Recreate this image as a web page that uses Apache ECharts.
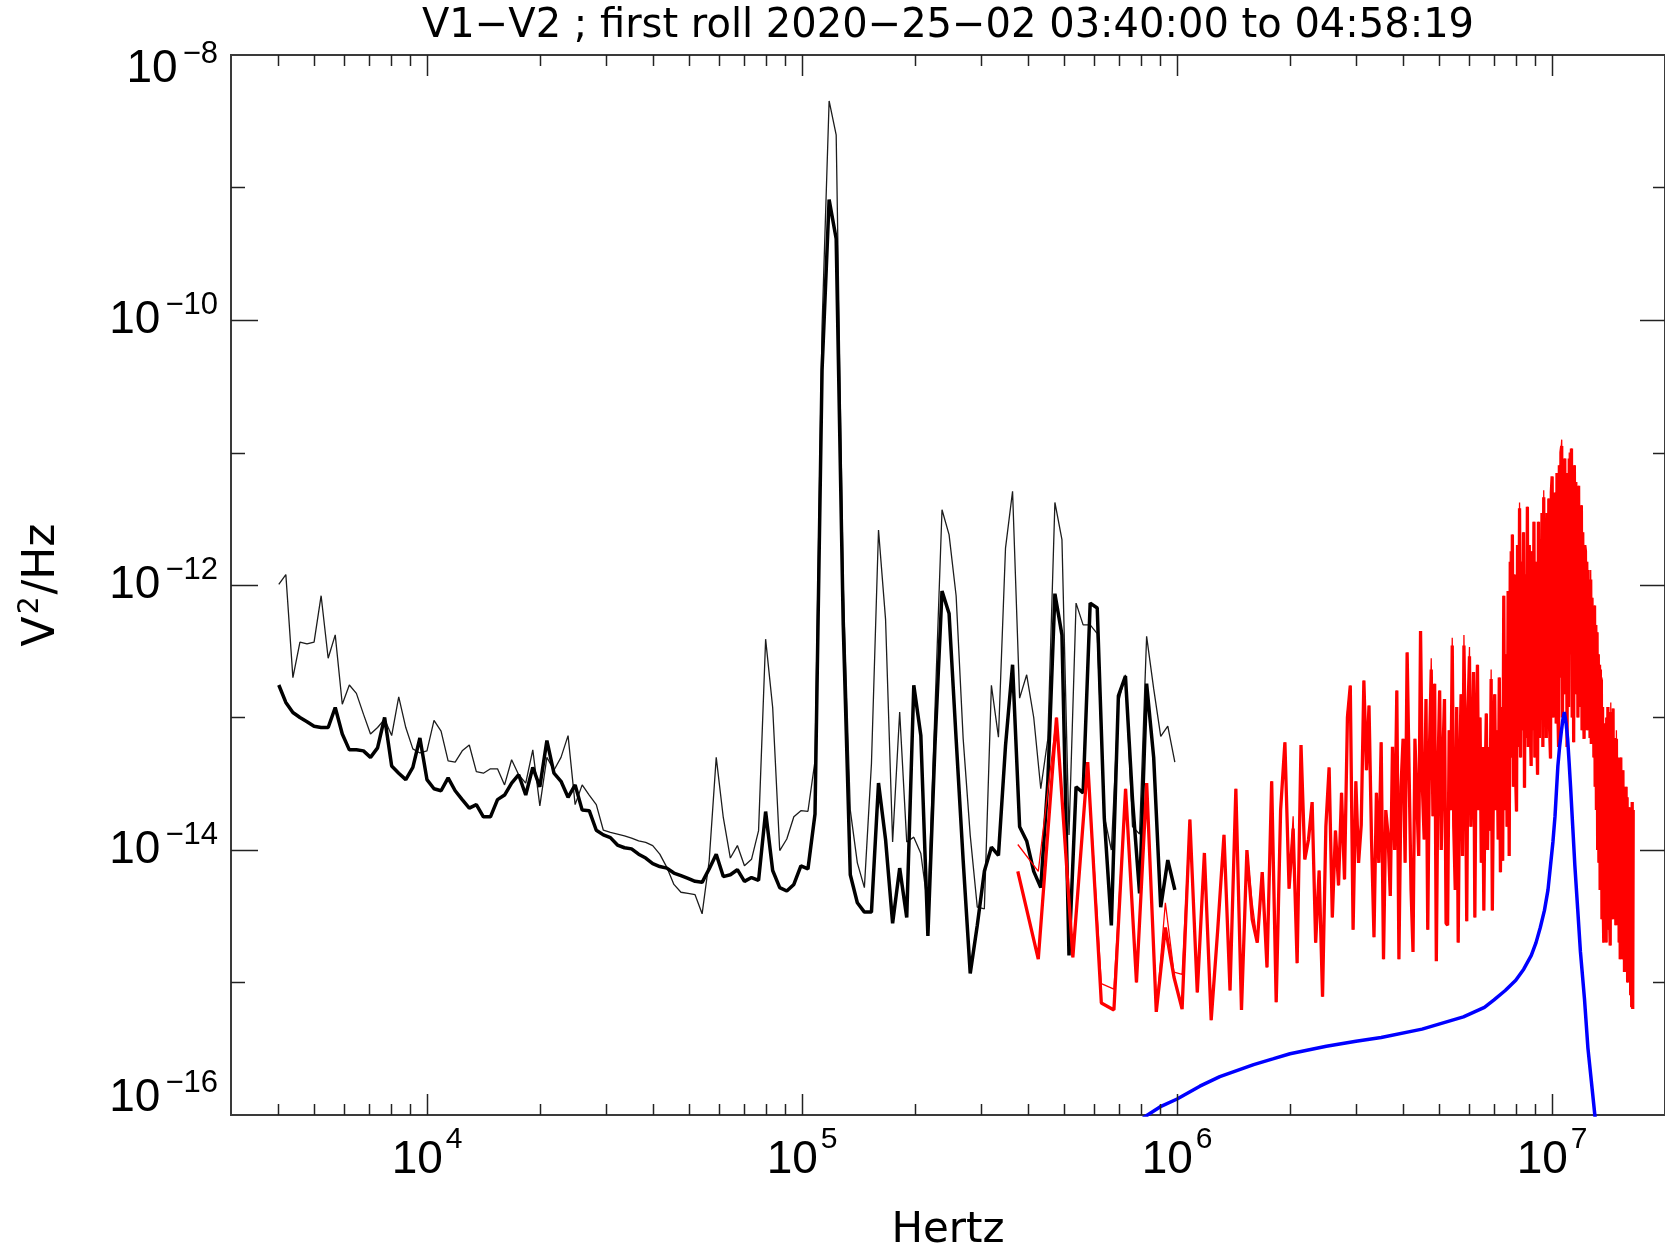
<!DOCTYPE html>
<html>
<head>
<meta charset="utf-8">
<script src="https://cdn.jsdelivr.net/npm/echarts@6/dist/echarts.min.js"></script>
<style>
html, body { margin: 0; padding: 0; background: #fff; }
#chart { width: 1665px; height: 1248px; }
</style>
</head>
<body>
<div id="chart"></div>
<script>
// frequency bins: low band is log spaced (16 bins per octave), high band is linear
var blackStart = 4023
var binsPerOctave = 16
var redStart = 376000
var redStep = 50400

// V^2/Hz, one value per bin
var blackThin = [
  1.01e-12, 1.2e-12, 2.0e-13, 3.7e-13, 3.6e-13, 3.7e-13, 8.3e-13, 2.8e-13, 4.2e-13, 1.26e-13,
  1.76e-13, 1.52e-13, 1.06e-13, 7.5e-14, 8.4e-14, 9.7e-14, 7.3e-14, 1.43e-13, 8.4e-14, 5.8e-14,
  5.4e-14, 5.6e-14, 9.5e-14, 7.9e-14, 4.7e-14, 4.6e-14, 5.6e-14, 6.2e-14, 3.9e-14, 3.8e-14,
  4.1e-14, 4.1e-14, 3.1e-14, 4.8e-14, 3.7e-14, 3.2e-14, 5.7e-14, 2.15e-14, 5.0e-14, 4.0e-14,
  5.0e-14, 7.3e-14, 2.2e-14, 3.1e-14, 2.6e-14, 2.2e-14, 1.41e-14, 1.36e-14, 1.32e-14, 1.28e-14,
  1.23e-14, 1.17e-14, 1.14e-14, 1.08e-14, 9.3e-15, 7.4e-15, 5.5e-15, 4.8e-15, 4.7e-15, 4.6e-15,
  3.3e-15, 8.3e-15, 5.0e-14, 1.76e-14, 8.7e-15, 1.08e-14, 7.6e-15, 8.5e-15, 1.40e-14, 3.9e-13,
  1.19e-13, 9.9e-15, 1.21e-14, 1.78e-14, 1.98e-14, 1.96e-14, 4.7e-14, 9.0e-11, 4.5e-9, 2.5e-9,
  1.0e-12, 2.0e-14, 8.0e-15, 5.2e-15, 4.5e-14, 2.6e-12, 5.5e-13, 1.15e-14, 1.1e-13, 1.15e-14,
  1.25e-14, 9.4e-15, 3.7e-15, 1.14e-13, 3.7e-12, 2.4e-12, 8.3e-13, 6.9e-14, 1.29e-14, 3.7e-15,
  3.6e-15, 1.75e-13, 7.1e-14, 1.9e-12, 5.1e-12, 1.4e-13, 2.1e-13, 1.0e-13, 2.9e-14, 6.9e-14,
  4.2e-12, 2.2e-12, 1.3e-14, 7.3e-13, 5.0e-13, 5.0e-13, 4.3e-13, 1.8e-14, 1.0e-14, 1.3e-13,
  2.1e-13, 1.5e-14, 1.32e-14, 4.1e-13, 1.65e-13, 7.2e-14, 8.6e-14, 4.6e-14
]
var blackThick = [
  1.76e-13, 1.30e-13, 1.09e-13, 1.00e-13, 9.3e-14, 8.6e-14, 8.4e-14, 8.4e-14, 1.19e-13, 7.5e-14,
  5.7e-14, 5.7e-14, 5.6e-14, 5.0e-14, 5.9e-14, 1.00e-13, 4.3e-14, 3.8e-14, 3.4e-14, 4.2e-14,
  7.0e-14, 3.4e-14, 2.9e-14, 2.8e-14, 3.5e-14, 2.8e-14, 2.4e-14, 2.07e-14, 2.2e-14, 1.78e-14,
  1.78e-14, 2.4e-14, 2.6e-14, 3.2e-14, 3.7e-14, 2.6e-14, 4.2e-14, 3.0e-14, 6.7e-14, 3.8e-14,
  3.3e-14, 2.5e-14, 3.1e-14, 2.0e-14, 1.98e-14, 1.41e-14, 1.30e-14, 1.24e-14, 1.09e-14, 1.04e-14,
  1.02e-14, 9.3e-15, 8.7e-15, 7.9e-15, 7.5e-15, 7.3e-15, 6.7e-15, 6.4e-15, 6.1e-15, 5.8e-15,
  5.7e-15, 7.2e-15, 9.3e-15, 6.3e-15, 6.5e-15, 7.1e-15, 5.8e-15, 6.2e-15, 5.9e-15, 1.95e-14,
  7.0e-15, 5.2e-15, 4.9e-15, 5.5e-15, 7.6e-15, 7.2e-15, 1.87e-14, 4.2e-11, 8.1e-10, 4.1e-10,
  5.0e-13, 6.5e-15, 4.0e-15, 3.4e-15, 3.4e-15, 3.2e-14, 1.2e-14, 2.8e-15, 7.3e-15, 3.1e-15,
  1.75e-13, 7.3e-14, 2.25e-15, 6.1e-14, 9.0e-13, 6.1e-13, 6.9e-14, 8.3e-15, 1.17e-15, 2.7e-15,
  6.9e-15, 1.05e-14, 9.1e-15, 6.1e-14, 2.5e-13, 1.5e-14, 1.17e-14, 6.9e-15, 5.2e-15, 3.3e-14,
  8.6e-13, 4.2e-13, 1.6e-15, 3.0e-14, 2.7e-14, 7.3e-13, 6.7e-13, 1.75e-14, 2.7e-15, 1.46e-13,
  2.05e-13, 2.4e-14, 4.7e-15, 1.8e-13, 5.0e-14, 3.7e-15, 8.4e-15, 5.0e-15
]
var redThin = [
  1.1e-14, 6.9e-15, 1.0e-13, 1.55e-15, 4.6e-14, 9.8e-16, 8.9e-16, 2.9e-14, 1.0e-15, 3.2e-14,
  6.0e-16, 4.0e-15, 1.2e-15, 1.15e-15, 1.7e-14, 8.4e-16, 9.5e-15, 5.2e-16, 2.5e-15, 1.3e-14,
  8.7e-16, 2.9e-14, 6.2e-16, 1.0e-14, 4.0e-15, 2.0e-15, 6.8e-15, 1.3e-15, 3.3e-14, 7.1e-16,
  2.0e-14, 6.5e-14, 5.1e-15, 1.8e-14, 1.4e-15, 6.2e-14, 8.5e-15, 1.2e-14, 2.3e-14, 2.0e-15,
  7.0e-15, 7.8e-16, 1.5e-14, 4.2e-14, 3.1e-15, 1.4e-14, 5.4e-15, 2.7e-14, 6.0e-15, 1.1e-13,
  1.74e-13, 2.5e-15, 3.3e-14, 8.0e-15, 1.55e-14, 1.9e-13, 4.0e-14, 1.23e-13, 1.2e-14, 2.2e-15,
  2.7e-14, 8.0e-15, 6.5e-14, 1.5e-15, 2.0e-14, 1.3e-14, 4.5e-15, 6.0e-14, 1.0e-14, 1.6e-13,
  1.5e-15, 3.0e-14, 6.9e-14, 8.0e-15, 3.1e-13, 3.2e-13, 5.0e-15, 1.7e-15, 6.9e-14, 2.5e-14,
  9.0e-15, 4.5e-13, 3.0e-14, 1.2e-14, 1.38e-13, 2.5e-15, 6.0e-14, 2.8e-13, 1.8e-14, 1.8e-13,
  1.45e-15, 5.0e-14, 1.6e-13, 1.0e-14, 5.0e-14, 1.38e-13, 2.8e-15, 2.7e-15, 8.0e-14, 2.0e-14,
  4.0e-13, 1.5e-14, 5.0e-15, 1.2e-13, 2.0e-15, 4.0e-14, 1.5e-13, 9.0e-15, 4.2e-13, 6.0e-14,
  2.9e-15, 1.2e-13, 3.4e-13, 1.5e-14, 5.0e-14, 2.2e-13, 3.1e-15, 7.0e-14, 2.5e-13, 2.0e-14,
  1.0e-13, 8.0e-15, 6.0e-14, 3.5e-15, 3.0e-14, 1.07e-13, 1.0e-14, 6.0e-14, 1.4e-14, 2.3e-13,
  3.5e-15, 4.0e-14, 1.5e-13, 2.0e-14, 8.0e-14, 1.2e-14, 2.0e-13, 6.8e-15, 1.2e-13, 8.3e-15,
  8.3e-13, 2.0e-14, 3.0e-13, 1.5e-14, 9.0e-13, 9.0e-15, 1.8e-12, 5.0e-14, 2.4e-12, 3.0e-14,
  1.2e-12, 4.0e-14, 1.95e-14, 2.0e-12, 6.0e-14, 4.2e-12, 5.0e-14, 1.5e-12, 8.0e-14, 2.5e-12,
  2.95e-14, 1.2e-12, 7.0e-14, 3.9e-12, 6.0e-14, 2.0e-12, 1.0e-13, 4.3e-14, 1.8e-12, 8.0e-14,
  3.0e-12, 5.0e-14, 1.5e-12, 9.0e-14, 3.7e-14, 3.0e-12, 7.0e-14, 2.2e-12, 1.2e-13, 3.5e-12,
  6.0e-14, 5.2e-12, 1.0e-13, 2.5e-12, 7.0e-14, 3.5e-12, 1.5e-13, 4.5e-12, 8.0e-14, 4.9e-14,
  5.0e-12, 6.6e-12, 1.0e-13, 3.5e-12, 1.5e-13, 5.0e-12, 9.0e-14, 7.0e-12, 1.2e-13, 6.0e-14,
  8.0e-12, 2.0e-13, 1.0e-11, 1.25e-11, 1.0e-13, 6.0e-12, 1.5e-13, 9.0e-12, 2.5e-13, 7.0e-12,
  6.0e-14, 5.0e-12, 1.2e-13, 1.0e-11, 3.0e-13, 6.0e-12, 1.07e-11, 1.0e-13, 5.0e-12, 6.5e-14,
  8.0e-12, 2.0e-13, 6.0e-12, 1.5e-13, 4.0e-12, 1.0e-13, 5.6e-12, 2.0e-13, 3.0e-12, 1.2e-13,
  4.0e-12, 8.0e-14, 2.5e-12, 1.5e-13, 6.9e-14, 2.0e-12, 1.8e-12, 1.0e-13, 1.5e-12, 8.0e-14,
  1.3e-12, 1.2e-13, 1.0e-12, 7.0e-14, 1.3e-12, 6.3e-14, 8.0e-13, 1.0e-13, 6.0e-13, 5.0e-14,
  7.0e-13, 3.0e-14, 5.0e-13, 2.0e-14, 4.4e-13, 1.0e-14, 3.0e-13, 8.0e-15, 2.5e-13, 5.0e-15,
  2.0e-13, 2.3e-13, 3.0e-15, 1.2e-13, 4.0e-15, 2.0e-15, 9.0e-14, 3.0e-15, 8.0e-14, 2.0e-15,
  1.0e-13, 4.0e-15, 1.2e-13, 2.5e-15, 7.0e-14, 3.0e-15, 1.9e-15, 1.3e-13, 4.0e-15, 9.0e-14,
  3.0e-15, 1.17e-13, 5.0e-15, 6.0e-14, 3.0e-15, 7.0e-14, 2.7e-15, 8.0e-14, 4.0e-15, 5.0e-14,
  3.0e-15, 4.5e-14, 2.0e-15, 4.0e-14, 1.5e-15, 5.0e-14, 2.5e-15, 3.5e-14, 1.5e-15, 4.0e-14,
  2.0e-15, 3.0e-14, 1.2e-15, 2.5e-14, 2.0e-15, 3.0e-14, 1.5e-15, 2.5e-14, 1.0e-15, 2.0e-14,
  1.2e-15, 2.1e-14, 1.0e-15, 1.8e-14, 8.0e-16, 1.5e-14, 6.5e-16, 2.3e-14, 6.3e-16, 2.0e-14
]
var redThick = [
  6.9e-15, 1.5e-15, 1.0e-13, 1.55e-15, 4.6e-14, 7.0e-16, 6.2e-16, 2.9e-14, 1.0e-15, 3.2e-14,
  6.0e-16, 2.6e-15, 1.1e-15, 6.3e-16, 1.7e-14, 8.4e-16, 9.5e-15, 5.2e-16, 2.5e-15, 1.3e-14,
  8.7e-16, 2.9e-14, 6.2e-16, 1.0e-14, 3.0e-15, 2.0e-15, 6.8e-15, 1.3e-15, 3.3e-14, 7.1e-16,
  2.0e-14, 6.5e-14, 5.1e-15, 1.45e-14, 1.4e-15, 6.2e-14, 8.5e-15, 1.2e-14, 2.3e-14, 2.0e-15,
  7.0e-15, 7.8e-16, 1.5e-14, 4.2e-14, 3.1e-15, 1.4e-14, 5.4e-15, 2.7e-14, 6.0e-15, 1.0e-13,
  1.74e-13, 2.5e-15, 3.3e-14, 8.0e-15, 1.55e-14, 1.9e-13, 4.0e-14, 1.23e-13, 1.2e-14, 2.2e-15,
  2.7e-14, 8.0e-15, 6.5e-14, 1.5e-15, 2.0e-14, 1.3e-14, 4.5e-15, 6.0e-14, 1.0e-14, 1.6e-13,
  1.5e-15, 3.0e-14, 6.9e-14, 8.0e-15, 3.1e-13, 3.2e-13, 5.0e-15, 1.7e-15, 6.9e-14, 2.5e-14,
  9.0e-15, 4.5e-13, 3.0e-14, 1.2e-14, 1.38e-13, 2.5e-15, 6.0e-14, 2.3e-13, 1.8e-14, 1.8e-13,
  1.45e-15, 4.0e-14, 1.6e-13, 1.0e-14, 5.0e-14, 1.38e-13, 2.8e-15, 2.7e-15, 8.0e-14, 2.0e-14,
  3.5e-13, 1.5e-14, 5.0e-15, 1.2e-13, 2.0e-15, 4.0e-14, 1.5e-13, 9.0e-15, 3.5e-13, 6.0e-14,
  2.9e-15, 1.2e-13, 2.9e-13, 1.5e-14, 5.0e-14, 2.2e-13, 3.1e-15, 7.0e-14, 2.5e-13, 2.0e-14,
  1.0e-13, 8.0e-15, 6.0e-14, 3.5e-15, 3.0e-14, 1.07e-13, 1.0e-14, 6.0e-14, 1.4e-14, 1.95e-13,
  3.5e-15, 4.0e-14, 1.5e-13, 2.0e-14, 8.0e-14, 1.2e-14, 2.0e-13, 6.8e-15, 1.2e-13, 8.3e-15,
  8.3e-13, 2.0e-14, 3.0e-13, 1.5e-14, 9.0e-13, 9.0e-15, 1.5e-12, 5.0e-14, 2.4e-12, 3.0e-14,
  1.2e-12, 4.0e-14, 1.95e-14, 2.0e-12, 6.0e-14, 3.8e-12, 5.0e-14, 1.5e-12, 8.0e-14, 2.5e-12,
  2.95e-14, 1.2e-12, 7.0e-14, 3.9e-12, 6.0e-14, 2.0e-12, 1.0e-13, 4.3e-14, 1.8e-12, 8.0e-14,
  3.0e-12, 5.0e-14, 1.5e-12, 9.0e-14, 3.7e-14, 3.0e-12, 7.0e-14, 2.2e-12, 1.2e-13, 3.5e-12,
  6.0e-14, 4.6e-12, 1.0e-13, 2.5e-12, 7.0e-14, 3.5e-12, 1.5e-13, 4.5e-12, 8.0e-14, 4.9e-14,
  5.0e-12, 6.6e-12, 1.0e-13, 3.5e-12, 1.5e-13, 5.0e-12, 9.0e-14, 7.0e-12, 1.2e-13, 6.0e-14,
  8.0e-12, 2.0e-13, 1.0e-11, 1.12e-11, 1.0e-13, 6.0e-12, 1.5e-13, 9.0e-12, 2.5e-13, 7.0e-12,
  6.0e-14, 5.0e-12, 1.2e-13, 9.0e-12, 3.0e-13, 6.0e-12, 1.07e-11, 1.0e-13, 5.0e-12, 6.5e-14,
  8.0e-12, 2.0e-13, 6.0e-12, 1.5e-13, 4.0e-12, 1.0e-13, 5.6e-12, 2.0e-13, 3.0e-12, 1.2e-13,
  4.0e-12, 8.0e-14, 2.5e-12, 1.5e-13, 6.9e-14, 2.0e-12, 1.8e-12, 1.0e-13, 1.5e-12, 8.0e-14,
  1.3e-12, 1.2e-13, 1.0e-12, 7.0e-14, 1.1e-12, 6.3e-14, 8.0e-13, 1.0e-13, 6.0e-13, 5.0e-14,
  7.0e-13, 3.0e-14, 5.0e-13, 2.0e-14, 4.4e-13, 1.0e-14, 3.0e-13, 8.0e-15, 2.5e-13, 5.0e-15,
  2.0e-13, 1.9e-13, 3.0e-15, 1.2e-13, 4.0e-15, 2.0e-15, 9.0e-14, 3.0e-15, 8.0e-14, 2.0e-15,
  1.0e-13, 4.0e-15, 1.2e-13, 2.5e-15, 7.0e-14, 3.0e-15, 1.9e-15, 1.1e-13, 4.0e-15, 9.0e-14,
  3.0e-15, 1.17e-13, 5.0e-15, 6.0e-14, 3.0e-15, 7.0e-14, 2.7e-15, 6.9e-14, 4.0e-15, 5.0e-14,
  3.0e-15, 4.5e-14, 2.0e-15, 4.0e-14, 1.5e-15, 5.0e-14, 2.5e-15, 3.5e-14, 1.5e-15, 4.0e-14,
  2.0e-15, 3.0e-14, 1.2e-15, 2.5e-14, 2.0e-15, 3.0e-14, 1.5e-15, 2.5e-14, 1.0e-15, 2.0e-14,
  1.2e-15, 2.1e-14, 1.0e-15, 1.8e-14, 8.0e-16, 1.5e-14, 6.5e-16, 2.3e-14, 6.3e-16, 2.0e-14
]
// model curve (blue)
var blueFreq = [7.0e5, 8.34e5, 9.0e5, 1.0e6, 1.15e6, 1.3e6, 1.6e6, 1.8e6, 2.0e6, 2.5e6, 3.0e6, 3.5e6, 4.5e6, 5.8e6,
  6.6e6, 7.0e6, 7.5e6, 8.0e6, 8.4e6, 8.8e6, 9.06e6, 9.3e6, 9.54e6, 9.75e6, 9.9e6, 1.005e7, 1.018e7, 1.027e7,
  1.036e7, 1.047e7, 1.058e7, 1.068e7, 1.078e7, 1.09e7, 1.10e7, 1.11e7, 1.12e7, 1.135e7, 1.15e7, 1.17e7,
  1.19e7, 1.22e7, 1.246e7, 1.30e7, 1.36e7]
var blueVal = [7.0e-17, 1.0e-16, 1.15e-16, 1.32e-16, 1.65e-16, 1.95e-16, 2.4e-16, 2.65e-16, 2.9e-16, 3.3e-16, 3.6e-16, 3.85e-16, 4.45e-16, 5.5e-16,
  6.5e-16, 7.4e-16, 8.7e-16, 1.04e-15, 1.26e-15, 1.6e-15, 2.0e-15, 2.6e-15, 3.5e-15, 5.0e-15, 7.6e-15, 1.15e-14, 1.8e-14, 2.8e-14,
  4.3e-14, 6.0e-14, 7.8e-14, 9.6e-14, 1.1e-13, 9.0e-14, 6.9e-14, 4.6e-14, 3.0e-14, 1.5e-14, 7.6e-15, 3.6e-15,
  1.7e-15, 7.5e-16, 3.2e-16, 1.0e-16, 3.0e-17]

var xMin = 3000
var xMax = 2e7
var yMin = 1e-16
var yMax = 1e-8
var xLabelExps = [4, 5, 6, 7]
var yLabelExps = [-8, -10, -12, -14, -16]

var blackFreq = blackThick.map(function (v, i) { return blackStart * Math.pow(2, i / binsPerOctave) })
var redFreq = redThick.map(function (v, j) { return redStart + redStep * j })

function pairs (fs, vs) {
  return vs.map(function (v, i) { return [fs[i], v] })
}
function expOf (v) {
  return Math.round(Math.log10(v))
}

var labelFont = 'Liberation Sans'
var textFont = 'DejaVu Sans'

var chart = echarts.init(document.getElementById('chart'))

function lineSeries (data, color, width, z) {
  return {
    type: 'line',
    data: data,
    symbol: 'none',
    showSymbol: false,
    silent: true,
    z: z,
    lineStyle: { color: color, width: width },
    emphasis: { disabled: true }
  }
}

var option = {
  animation: false,
  backgroundColor: '#ffffff',
  title: {
    text: 'V1−V2 ; first roll 2020−25−02 03:40:00 to 04:58:19',
    left: 948,
    top: 7,
    padding: 0,
    textAlign: 'center',
    textStyle: { fontFamily: textFont, fontSize: 40, fontWeight: 'normal', color: '#000' }
  },
  grid: {
    left: 231,
    top: 55,
    right: 0,
    bottom: 133,
    containLabel: false,
    outerBoundsMode: 'none',
    show: true,
    borderColor: '#3a3a3a',
    borderWidth: 2,
    backgroundColor: 'transparent'
  },
  xAxis: {
    type: 'log',
    logBase: 10,
    min: xMin,
    max: xMax,
    name: 'Hertz',
    nameLocation: 'middle',
    nameGap: 95,
    nameMoveOverlap: false,
    nameTextStyle: { fontFamily: textFont, fontSize: 42, color: '#000' },
    axisLine: { show: false },
    axisTick: { show: false },
    splitLine: { show: false },
    minorTick: { show: false },
    axisLabel: {
      margin: 22,
      showMinLabel: true,
      showMaxLabel: true,
      formatter: function (v) {
        var e = expOf(v)
        if (Math.abs(Math.log10(v) - e) > 1e-6 || xLabelExps.indexOf(e) < 0) return ''
        return '{b|10}{s|' + e + '}'
      },
      rich: {
        b: { fontFamily: labelFont, fontSize: 46, lineHeight: 46, verticalAlign: 'bottom', color: '#000' },
        s: { fontFamily: labelFont, fontSize: 30, lineHeight: 30, padding: [0, 0, 28, 3], verticalAlign: 'bottom', color: '#000' }
      }
    }
  },
  yAxis: {
    type: 'log',
    logBase: 10,
    min: yMin,
    max: yMax,
    name: '{n|V}{p|2}{n|/Hz}',
    nameLocation: 'middle',
    nameGap: 166,
    nameMoveOverlap: false,
    nameTextStyle: {
      rich: {
        n: { fontFamily: textFont, fontSize: 44, lineHeight: 44, verticalAlign: 'bottom', color: '#000' },
        p: { fontFamily: textFont, fontSize: 28, lineHeight: 28, padding: [0, 2, 20, 2], verticalAlign: 'bottom', color: '#000' }
      }
    },
    axisLine: { show: false },
    axisTick: { show: false },
    splitLine: { show: false },
    minorTick: { show: false },
    axisLabel: {
      margin: 13,
      showMinLabel: true,
      showMaxLabel: true,
      formatter: function (v) {
        var e = expOf(v)
        if (yLabelExps.indexOf(e) < 0) return ''
        var t = '{b|10}{s|−' + (-e) + '}'
        if (e === yLabelExps[0]) return '{et| }\n' + t
        if (e === yLabelExps[yLabelExps.length - 1]) return t + '\n{eb| }'
        return t
      },
      rich: {
        b: { fontFamily: labelFont, fontSize: 46, lineHeight: 46, verticalAlign: 'bottom', color: '#000' },
        s: { fontFamily: labelFont, fontSize: 31, lineHeight: 31, padding: [0, 0, 22, 5], verticalAlign: 'bottom', color: '#000' },
        et: { fontSize: 8, lineHeight: 28 },
        eb: { fontSize: 8, lineHeight: 34 }
      }
    }
  },
  series: [
    lineSeries(pairs(blackFreq, blackThin), '#1c1c1c', 1.3, 2),
    lineSeries(pairs(blackFreq, blackThick), '#000000', 3.5, 3),
    lineSeries(pairs(redFreq, redThin), '#ff0000', 1.3, 4),
    lineSeries(pairs(redFreq, redThick), '#ff0000', 3.3, 5),
    lineSeries(pairs(blueFreq, blueVal), '#0000ff', 3.5, 6)
  ]
}

chart.setOption(option)

// IDL style ticks: decades long, minor short, on all four sides
function drawTicks () {
  var els = []
  var px = function (v) { return chart.convertToPixel({ xAxisIndex: 0 }, v) }
  var py = function (v) { return chart.convertToPixel({ yAxisIndex: 0 }, v) }
  var left = px(xMin)
  var right = px(xMax)
  var top = py(yMax)
  var bottom = py(yMin)
  var st = { stroke: '#222', lineWidth: 1.5 }
  for (var n = 3; n <= 7; n++) {
    for (var k = 1; k <= 9; k++) {
      var f = k * Math.pow(10, n)
      if (f <= xMin || f >= xMax) continue
      var x = Math.round(px(f)) + 0.5
      var len = k === 1 ? 21 : 11
      els.push({ type: 'line', silent: true, z: 10, shape: { x1: x, y1: bottom, x2: x, y2: bottom - len }, style: st })
      els.push({ type: 'line', silent: true, z: 10, shape: { x1: x, y1: top, x2: x, y2: top + len }, style: st })
    }
  }
  for (var e = -15; e <= -9; e++) {
    var y = Math.round(py(Math.pow(10, e))) + 0.5
    var major = e % 2 === 0
    els.push({ type: 'line', silent: true, z: 10, shape: { x1: left, y1: y, x2: left + (major ? 27 : 14), y2: y }, style: st })
    els.push({ type: 'line', silent: true, z: 10, shape: { x1: right, y1: y, x2: right - (major ? 25 : 12), y2: y }, style: st })
  }
  chart.setOption({ graphic: els })
}
drawTicks()
</script>
</body>
</html>
